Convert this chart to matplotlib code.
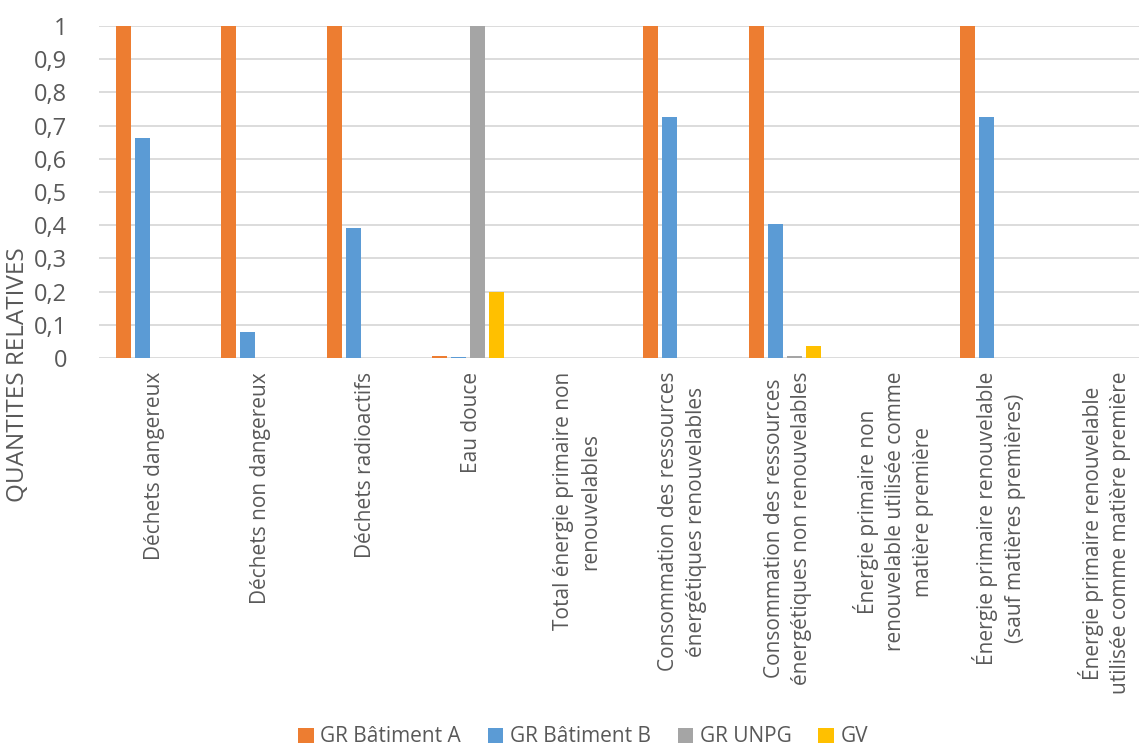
import numpy as np
import matplotlib.pyplot as plt
from matplotlib.patches import Patch

categories = [
    "Déchets dangereux",
    "Déchets non dangereux",
    "Déchets radioactifs",
    "Eau douce",
    "Total énergie primaire non\nrenouvelables",
    "Consommation des ressources\nénergétiques renouvelables",
    "Consommation des ressources\nénergétiques non renouvelables",
    "Énergie primaire non\nrenouvelable utilisée comme\nmatière première",
    "Énergie primaire renouvelable\n(sauf matières premières)",
    "Énergie primaire renouvelable\nutilisée comme matière première",
]
series_names = ["GR Bâtiment A", "GR Bâtiment B", "GR UNPG", "GV"]
gr_a = [1, 1, 1, 0.005, 0, 1, 1, 0, 1, 0]
gr_b = [0.662, 0.078, 0.393, 0.004, 0, 0.725, 0.405, 0, 0.725, 0]
gr_unpg = [0, 0, 0, 1, 0, 0, 0.005, 0, 0, 0]
gv = [0, 0, 0, 0.2, 0, 0, 0.037, 0, 0, 0]
colors = ["#ED7D31", "#5B9BD5", "#A5A5A5", "#FFC000"]

plt.rcParams['font.family'] = ['Open Sans', 'DejaVu Sans']
txt = "#595959"

fig = plt.figure(figsize=(11.39, 7.46), dpi=100)
ax = fig.add_axes([99 / 1139, 1 - 358 / 746, 1055 / 1139, 332 / 746])

x = np.arange(len(categories))
w = 0.142
step = 0.18
for i, (vals, c) in enumerate(zip([gr_a, gr_b, gr_unpg, gv], colors)):
    ax.bar(x + (i - 1.5) * step, vals, width=w, color=c, zorder=3)

ax.set_xlim(-0.5, len(categories) - 0.5)
ax.set_ylim(0, 1)
ticks = np.round(np.arange(0, 1.01, 0.1), 1)
ax.set_yticks(ticks)
ax.set_yticklabels([("%g" % v).replace(".", ",") for v in ticks], color=txt, fontsize=17)
ax.tick_params(axis='y', length=0, pad=23)
ax.set_xticks([])
ax.grid(axis='y', color='#D9D9D9', lw=1.3, zorder=0)
for s in ax.spines.values():
    s.set_visible(False)

for xi, lab in zip(x, categories):
    ax.annotate(lab, xy=(xi + 0.03, 0), xycoords=('data', 'axes fraction'),
                xytext=(0, -10), textcoords='offset points',
                rotation=90, ha='center', va='top', multialignment='center',
                linespacing=1.4, fontsize=15, color=txt)

fig.text(18 / 1139, 1 - 375 / 746, "QUANTITES RELATIVES", rotation=90,
         ha='center', va='center', fontsize=17.5, color=txt)

handles = [Patch(facecolor=c, label=n) for c, n in zip(colors, series_names)]
fig.legend(handles=handles, loc='center', bbox_to_anchor=(583 / 1139, 1 - 737 / 746),
           ncol=4, frameon=False, fontsize=15, labelcolor=txt,
           handlelength=0.75, handleheight=0.75, handletextpad=0.3, columnspacing=1.3)

fig.savefig("out.png", dpi=100)
